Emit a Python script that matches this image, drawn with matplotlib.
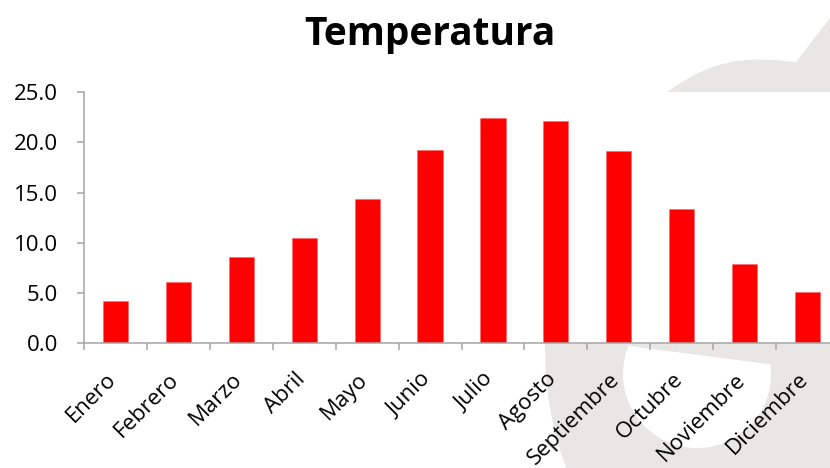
import numpy as np
import matplotlib
matplotlib.use("Agg")
import matplotlib.pyplot as plt
from matplotlib.patches import Polygon

meses = ["Enero", "Febrero", "Marzo", "Abril", "Mayo", "Junio", "Julio",
         "Agosto", "Septiembre", "Octubre", "Noviembre", "Diciembre"]
temperatura = [4.2, 6.1, 8.6, 10.5, 14.4, 19.2, 22.4, 22.1, 19.1, 13.4, 7.9, 5.1]
y_ticks = [0, 5, 10, 15, 20, 25]

plt.rcParams["font.family"] = ["Open Sans", "DejaVu Sans"]

W, H = 830, 468
fig = plt.figure(figsize=(W / 100, H / 100), dpi=100)
fig.patch.set_facecolor("white")

# --- marca de agua gris de fondo (coordenadas en pixeles) ---
bg = fig.add_axes([0, 0, 1, 1], zorder=0)
bg.set_xlim(0, W)
bg.set_ylim(H, 0)
bg.axis("off")

cx, cy, R = 883, 350, 338
ys = np.linspace(300, H, 30)
arc = [(cx - np.sqrt(R**2 - (y - cy)**2), y) for y in ys]
top_edge = [(830, 18), (796, 62), (775, 60), (755, 59.5), (735, 61), (715, 66),
            (698, 73), (682, 82), (667, 92)]
outer = top_edge + [(560, 200)] + arc + [(W, H)]
bg.add_patch(Polygon(outer, closed=True, facecolor="#e8e7e6", edgecolor="none"))

# hueco (circulo cortado por una linea arriba a la derecha)
t = np.linspace(0, 2 * np.pi, 200)
hx = 697 + 74 * np.cos(t)
hy = 374 + 74 * np.sin(t)
line_y = 345 + (hx - 622) * (20 / 153)
hy = np.maximum(hy, line_y)
bg.add_patch(Polygon(np.column_stack([hx, hy]), closed=True,
                     facecolor="white", edgecolor="none"))

# --- grafico ---
left, right = 84 / W, 839 / W
bottom, top = (H - 343.3) / H, (H - 92) / H
ax = fig.add_axes([left, bottom, right - left, top - bottom], zorder=1)
ax.set_facecolor("white")

x = np.arange(len(meses))
ax.bar(x, temperatura, width=0.4, color="#ff0000", edgecolor="#ff6666", linewidth=0.4)

ax.set_xlim(-0.5, len(meses) - 0.5)
ax.set_ylim(0, 25)
ax.set_yticks(y_ticks)
ax.set_yticklabels([f"{v:.1f}" for v in y_ticks])

# ticks en los limites de categoria, etiquetas algo a la derecha del centro
ax.set_xticks(np.arange(-0.5, len(meses), 1.0))
ax.set_xticklabels([])
ax.set_xticks(x + 0.08, minor=True)
ax.set_xticklabels(meses, minor=True, rotation=45, ha="right", va="top")

for s in ["top", "right"]:
    ax.spines[s].set_visible(False)
for s in ["left", "bottom"]:
    ax.spines[s].set_color("#a6a6a6")
    ax.spines[s].set_linewidth(1.1)

ax.tick_params(axis="both", which="major", length=5, width=1.1, color="#a6a6a6")
ax.tick_params(axis="y", labelsize=16, pad=13.5, labelcolor="black")
ax.tick_params(axis="x", which="minor", length=0, pad=18.5, labelsize=16, labelcolor="black")

fig.text(430 / W, 1 - 45 / H, "Temperatura", ha="center", va="baseline",
         fontsize=28, fontweight="bold")

fig.savefig("out.png", dpi=100, facecolor="white")
